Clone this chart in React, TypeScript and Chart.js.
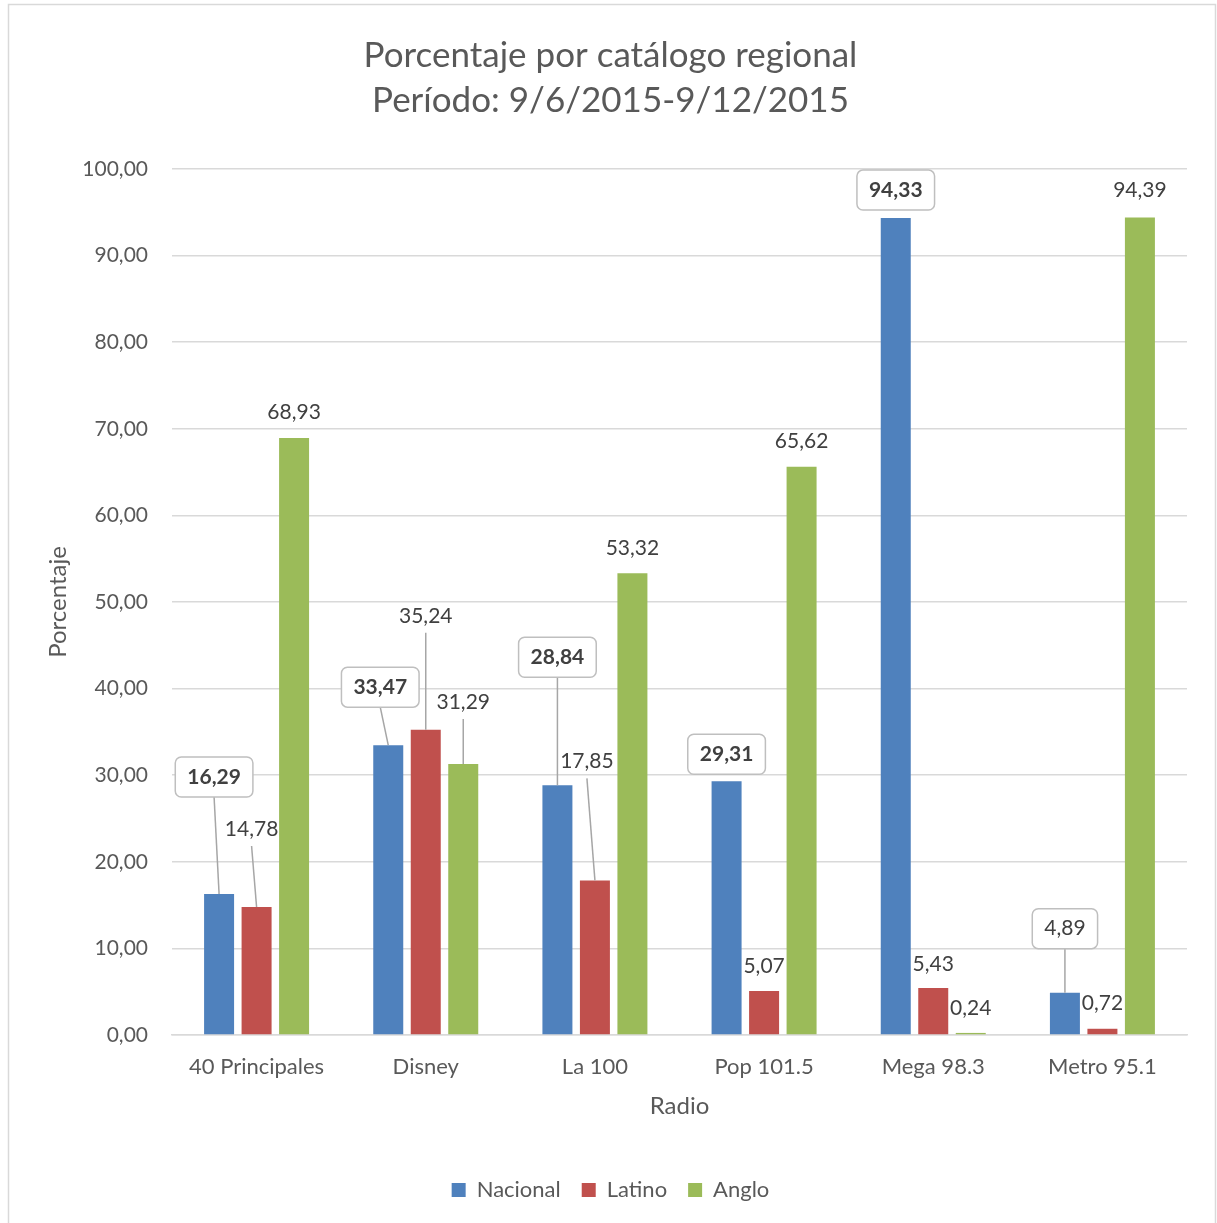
import React, { useEffect, useRef } from "react";
import { Chart, registerables } from "chart.js";

Chart.register(...registerables);

const categories = ["40 Principales", "Disney", "La 100", "Pop 101.5", "Mega 98.3", "Metro 95.1"];
const seriesNames = ["Nacional", "Latino", "Anglo"];
const nacional = [16.29, 33.47, 28.84, 29.31, 94.33, 4.89];
const latino = [14.78, 35.24, 17.85, 5.07, 5.43, 0.72];
const anglo = [68.93, 31.29, 53.32, 65.62, 0.24, 94.39];
const yTicks = [0, 10, 20, 30, 40, 50, 60, 70, 80, 90, 100];
const colors = ["#4f81bd", "#c0504d", "#9bbb59"];

// Label placement: [dx, dy] from bar top centre, boxed, bold, leader line
type LabelSpec = { dx: number; dy: number; boxed?: boolean; bold?: boolean; leader?: boolean };
const labelNacional: LabelSpec[] = [
  { dx: -5, dy: -117, boxed: true, bold: true, leader: true },
  { dx: -8, dy: -58, boxed: true, bold: true, leader: true },
  { dx: 0, dy: -128, boxed: true, bold: true, leader: true },
  { dx: 0, dy: -27, boxed: true, bold: true },
  { dx: 0, dy: -28, boxed: true, bold: true },
  { dx: 0, dy: -64, boxed: true, leader: true },
];
const labelLatino: LabelSpec[] = [
  { dx: -5, dy: -78, leader: true },
  { dx: 0, dy: -114, leader: true },
  { dx: -8, dy: -119, leader: true },
  { dx: 0, dy: -25 },
  { dx: 0, dy: -24 },
  { dx: 0, dy: -26 },
];
const labelAnglo: LabelSpec[] = [
  { dx: 0, dy: -26 },
  { dx: 0, dy: -62, leader: true },
  { dx: 0, dy: -25 },
  { dx: 0, dy: -25 },
  { dx: 0, dy: -25 },
  { dx: 0, dy: -27 },
];
const labelSpecs = [labelNacional, labelLatino, labelAnglo];

const FONT = "Lato, 'Open Sans', sans-serif";
const fmt = (v: number) => v.toFixed(2).replace(".", ",");

const frameAndLabels = {
  id: "frameAndLabels",
  beforeDraw(chart: any) {
    const ctx = chart.ctx;
    ctx.save();
    ctx.fillStyle = "#ffffff";
    ctx.fillRect(0, 0, chart.width, chart.height);
    ctx.strokeStyle = "#d9d9d9";
    ctx.lineWidth = 1.5;
    ctx.beginPath();
    ctx.moveTo(8.5, chart.height + 2);
    ctx.lineTo(8.5, 4.5);
    ctx.lineTo(1215.5, 4.5);
    ctx.lineTo(1215.5, chart.height + 2);
    ctx.stroke();
    ctx.restore();
  },
  afterDatasetsDraw(chart: any) {
    const ctx = chart.ctx;
    ctx.save();
    chart.data.datasets.forEach((ds: any, i: number) => {
      const meta = chart.getDatasetMeta(i);
      meta.data.forEach((bar: any, j: number) => {
        const spec = labelSpecs[i][j];
        const text = fmt(ds.data[j]);
        const cx = bar.x + spec.dx;
        const cy = bar.y + spec.dy;
        ctx.font = `${spec.bold ? "bold " : ""}21px ${FONT}`;
        const tw = ctx.measureText(text).width;
        let startY = cy + 17;
        if (spec.boxed) {
          const w = tw + 24;
          const h = 40;
          const x0 = cx - w / 2;
          const y0 = cy - h / 2;
          startY = y0 + h;
          if (spec.leader) {
            ctx.strokeStyle = "#a6a6a6";
            ctx.lineWidth = 1.5;
            ctx.beginPath();
            ctx.moveTo(cx, startY);
            ctx.lineTo(bar.x, bar.y);
            ctx.stroke();
          }
          ctx.beginPath();
          ctx.roundRect(x0, y0, w, h, 6);
          ctx.fillStyle = "#ffffff";
          ctx.fill();
          ctx.strokeStyle = "#bfbfbf";
          ctx.lineWidth = 1.5;
          ctx.stroke();
        } else if (spec.leader) {
          ctx.strokeStyle = "#a6a6a6";
          ctx.lineWidth = 1.5;
          ctx.beginPath();
          ctx.moveTo(cx, startY);
          ctx.lineTo(bar.x, bar.y);
          ctx.stroke();
        }
        ctx.fillStyle = "#404040";
        ctx.textAlign = "center";
        ctx.textBaseline = "middle";
        ctx.fillText(text, cx, cy);
      });
    });
    ctx.restore();
  },
};

export default function App() {
  const ref = useRef<HTMLCanvasElement | null>(null);
  useEffect(() => {
    if (!ref.current) return;
    const chart = new Chart(ref.current, {
      type: "bar",
      data: {
        labels: categories,
        datasets: [nacional, latino, anglo].map((d, i) => ({
          label: seriesNames[i],
          data: d,
          backgroundColor: colors[i],
          borderWidth: 0,
          categoryPercentage: 0.665,
          barPercentage: 0.8,
        })),
      },
      options: {
        responsive: false,
        animation: false,
        layout: { padding: { left: 34, right: 30, top: 0, bottom: 12 } },
        plugins: {
          title: {
            display: true,
            text: ["Porcentaje por catálogo regional", "Período: 9/6/2015-9/12/2015"],
            color: "#595959",
            font: { family: FONT, size: 35, weight: "normal", lineHeight: 1.2857 },
            padding: { top: 33.5, bottom: 45.5 },
          },
          legend: {
            position: "bottom",
            labels: {
              color: "#595959",
              font: { family: FONT, size: 22 },
              boxWidth: 14,
              boxHeight: 14,
              padding: 21,
            },
          },
          tooltip: { enabled: false },
        },
        scales: {
          x: {
            grid: { display: false, drawTicks: false },
            border: { display: true, color: "#d9d9d9", width: 1.5 },
            ticks: { color: "#595959", font: { family: FONT, size: 22 }, padding: 19 },
            title: {
              display: true,
              text: "Radio",
              color: "#595959",
              font: { family: FONT, size: 24 },
              padding: { top: 0, bottom: 37.6 },
            },
            afterFit: (s: any) => { s.height = 123; },
          },
          y: {
            min: 0,
            max: 100,
            afterBuildTicks: (s: any) => { s.ticks = yTicks.map((v) => ({ value: v })); },
            grid: { color: "#d9d9d9", lineWidth: 1.5, drawTicks: false },
            border: { display: false },
            ticks: {
              color: "#595959",
              font: { family: FONT, size: 21 },
              padding: 24,
              callback: (v: any) => fmt(Number(v)),
            },
            title: {
              display: true,
              text: "Porcentaje",
              color: "#595959",
              font: { family: FONT, size: 24 },
              padding: { top: 10, bottom: 0 },
            },
            afterFit: (s: any) => { s.width = 138; },
          },
        },
      },
      plugins: [frameAndLabels],
    });
    return () => chart.destroy();
  }, []);
  return (
    <div style={{ position: "absolute", left: 0, top: 0, width: 1217, height: 1223 }}>
      <canvas ref={ref} width={1217} height={1223} style={{ display: "block" }} />
    </div>
  );
}
